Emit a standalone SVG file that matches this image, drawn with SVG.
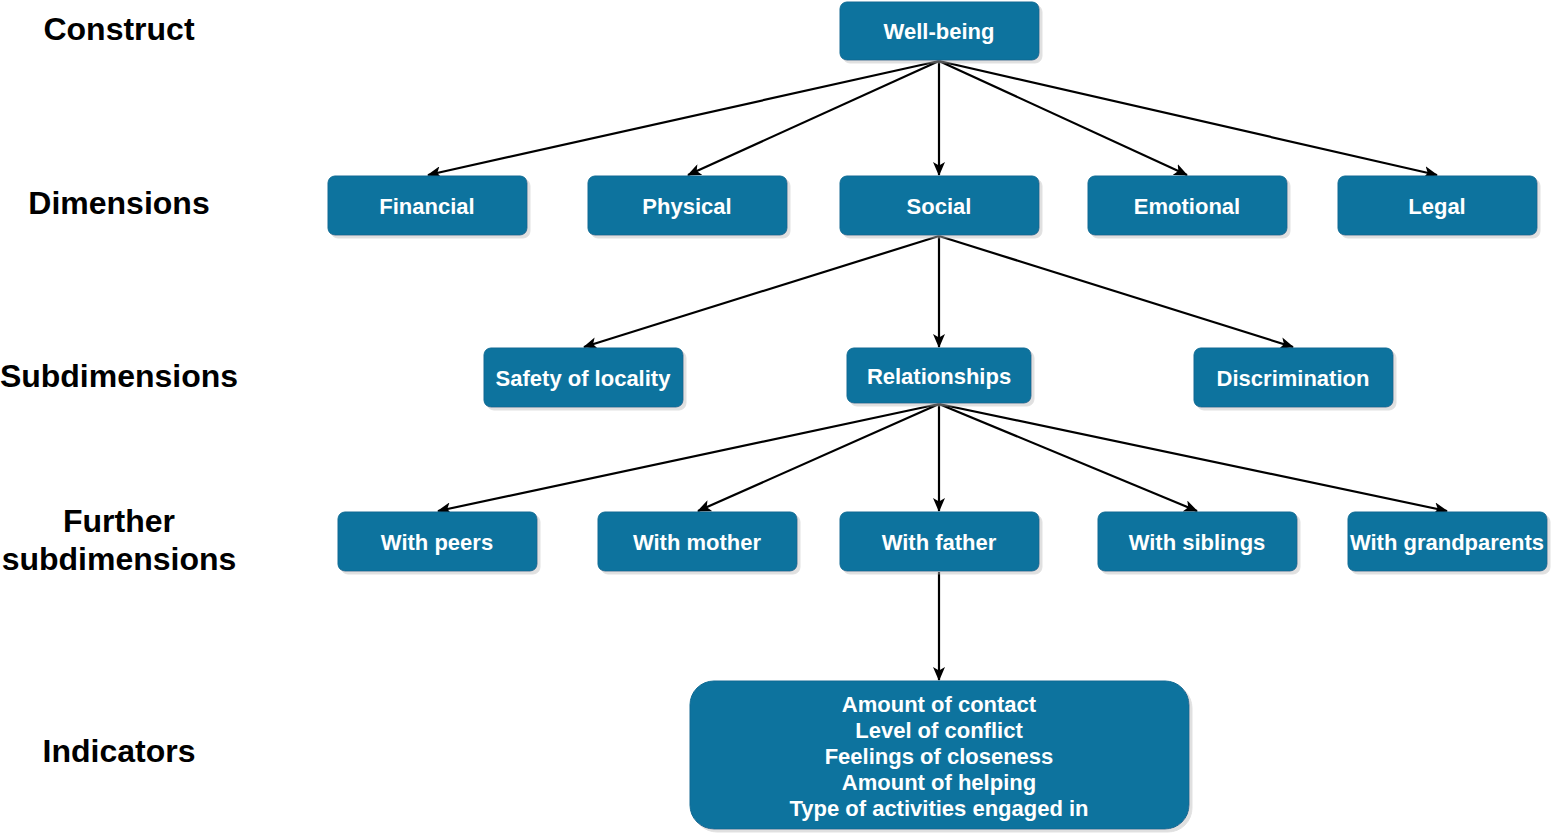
<svg xmlns="http://www.w3.org/2000/svg" width="1551" height="836" viewBox="0 0 1551 836">
<defs>
<marker id="arr" markerWidth="14" markerHeight="12" refX="13" refY="6" orient="auto" markerUnits="userSpaceOnUse" viewBox="0 0 14 12">
<path d="M0,0 L14,6 L0,12 L3.5,6 Z" fill="#000"/>
</marker>
<filter id="sh" x="-10%" y="-10%" width="130%" height="140%">
<feOffset in="SourceAlpha" dx="3" dy="3" result="o"/>
<feColorMatrix in="o" type="matrix" values="0 0 0 0 0.5 0 0 0 0 0.5 0 0 0 0 0.5 0 0 0 0.45 0" result="c"/>
<feMerge><feMergeNode in="c"/><feMergeNode in="SourceGraphic"/></feMerge>
</filter>
</defs>
<style>
.box{fill:#10739E;stroke:#0E6A93;stroke-width:1;filter:url(#sh)}
.t{font-family:"Liberation Sans",Arial,sans-serif;font-weight:bold;font-size:22px;fill:#fff;text-anchor:middle}
.lab{font-family:"Liberation Sans",Arial,sans-serif;font-weight:bold;font-size:32px;fill:#000;text-anchor:middle}
.e{stroke:#000;stroke-width:2.2;fill:none;marker-end:url(#arr)}
</style>
<rect width="1551" height="836" fill="#fff"/>
<g id="labels">
<text class="lab" x="119" y="40">Construct</text>
<text class="lab" x="119" y="214">Dimensions</text>
<text class="lab" x="119" y="387">Subdimensions</text>
<text class="lab" x="119" y="532">Further</text>
<text class="lab" x="119" y="570">subdimensions</text>
<text class="lab" x="119" y="762">Indicators</text>
</g>
<g id="connectors">
<line class="e" x1="939" y1="61" x2="428" y2="175"/>
<line class="e" x1="939" y1="61" x2="688" y2="175"/>
<line class="e" x1="939" y1="61" x2="939" y2="175"/>
<line class="e" x1="939" y1="61" x2="1187" y2="175"/>
<line class="e" x1="939" y1="61" x2="1437" y2="175"/>
<line class="e" x1="939" y1="236" x2="584" y2="347"/>
<line class="e" x1="939" y1="236" x2="939" y2="347"/>
<line class="e" x1="939" y1="236" x2="1293" y2="347"/>
<line class="e" x1="939" y1="404" x2="438" y2="511"/>
<line class="e" x1="939" y1="404" x2="698" y2="511"/>
<line class="e" x1="939" y1="404" x2="939" y2="511"/>
<line class="e" x1="939" y1="404" x2="1197" y2="511"/>
<line class="e" x1="939" y1="404" x2="1447" y2="511"/>
<line class="e" x1="939" y1="572" x2="939" y2="680"/>
</g>
<g id="wellbeing"><rect class="box" x="840" y="2" width="199" height="58" rx="7"/><text class="t" x="939" y="39">Well-being</text></g>
<g id="financial"><rect class="box" x="328" y="176" width="199" height="59" rx="7"/><text class="t" x="427" y="214">Financial</text></g>
<g id="physical"><rect class="box" x="588" y="176" width="199" height="59" rx="7"/><text class="t" x="687" y="214">Physical</text></g>
<g id="social"><rect class="box" x="840" y="176" width="199" height="59" rx="7"/><text class="t" x="939" y="214">Social</text></g>
<g id="emotional"><rect class="box" x="1088" y="176" width="199" height="59" rx="7"/><text class="t" x="1187" y="214">Emotional</text></g>
<g id="legal"><rect class="box" x="1338" y="176" width="199" height="59" rx="7"/><text class="t" x="1437" y="214">Legal</text></g>
<g id="safety"><rect class="box" x="484" y="348" width="199" height="59" rx="7"/><text class="t" x="583" y="386">Safety of locality</text></g>
<g id="relationships"><rect class="box" x="847" y="348" width="184" height="55" rx="7"/><text class="t" x="939" y="384">Relationships</text></g>
<g id="discrimination"><rect class="box" x="1194" y="348" width="199" height="59" rx="7"/><text class="t" x="1293" y="386">Discrimination</text></g>
<g id="peers"><rect class="box" x="338" y="512" width="199" height="59" rx="7"/><text class="t" x="437" y="550">With peers</text></g>
<g id="mother"><rect class="box" x="598" y="512" width="199" height="59" rx="7"/><text class="t" x="697" y="550">With mother</text></g>
<g id="father"><rect class="box" x="840" y="512" width="199" height="59" rx="7"/><text class="t" x="939" y="550">With father</text></g>
<g id="siblings"><rect class="box" x="1098" y="512" width="199" height="59" rx="7"/><text class="t" x="1197" y="550">With siblings</text></g>
<g id="grandparents"><rect class="box" x="1348" y="512" width="199" height="59" rx="7"/><text class="t" x="1447" y="550">With grandparents</text></g>
<g id="indicators"><rect class="box" x="690" y="681" width="499" height="148" rx="24"/>
<text class="t" x="939" y="712">Amount of contact</text>
<text class="t" x="939" y="738">Level of conflict</text>
<text class="t" x="939" y="764">Feelings of closeness</text>
<text class="t" x="939" y="790">Amount of helping</text>
<text class="t" x="939" y="816">Type of activities engaged in</text>
</g>
</svg>
